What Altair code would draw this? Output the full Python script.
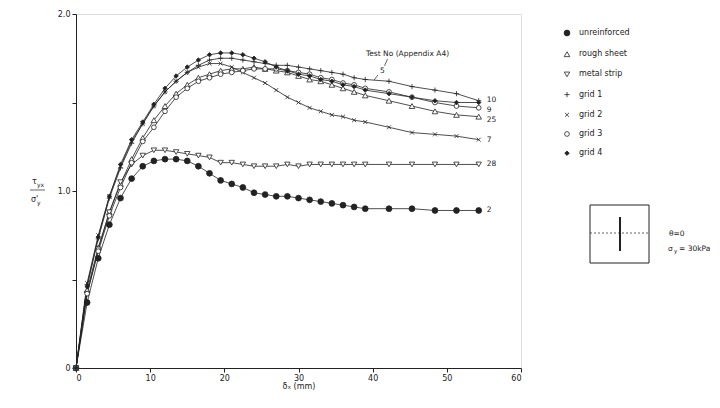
import altair as alt
import pandas as pd

# ---- data ----
dx = [0, 1.5, 3, 4.5, 6, 7.5, 9, 10.5, 12, 13.5, 15, 16.5, 18, 19.5, 21, 22.5,
      24, 25.5, 27, 28.5, 30, 31.5, 33, 34.5, 36, 37.5, 39, 42.2, 45.3, 48.4, 51.3, 54.3]

series_names = ["unreinforced", "rough sheet", "metal strip", "grid 1", "grid 2", "grid 3", "grid 4"]

unreinforced = [0, 0.37, 0.62, 0.81, 0.96, 1.07, 1.14, 1.17, 1.18, 1.18, 1.17, 1.14, 1.10, 1.06, 1.04, 1.02,
                0.99, 0.98, 0.97, 0.97, 0.96, 0.95, 0.94, 0.93, 0.92, 0.91, 0.90, 0.90, 0.90, 0.89, 0.89, 0.89]
rough_sheet = [0, 0.44, 0.68, 0.88, 1.04, 1.18, 1.30, 1.40, 1.48, 1.55, 1.60, 1.64, 1.66, 1.68, 1.69, 1.69,
               1.70, 1.69, 1.68, 1.67, 1.65, 1.63, 1.62, 1.60, 1.58, 1.56, 1.54, 1.51, 1.48, 1.45, 1.43, 1.42]
metal_strip = [0, 0.42, 0.67, 0.88, 1.05, 1.15, 1.20, 1.23, 1.23, 1.22, 1.21, 1.20, 1.19, 1.16, 1.16, 1.15,
               1.14, 1.14, 1.14, 1.15, 1.14, 1.15, 1.15, 1.15, 1.15, 1.15, 1.15, 1.15, 1.15, 1.15, 1.15, 1.15]
grid_1 = [0, 0.47, 0.73, 0.96, 1.13, 1.27, 1.38, 1.48, 1.56, 1.62, 1.67, 1.71, 1.74, 1.75, 1.75, 1.74,
          1.73, 1.72, 1.71, 1.71, 1.70, 1.69, 1.68, 1.67, 1.66, 1.64, 1.63, 1.62, 1.59, 1.57, 1.55, 1.51]
grid_2 = [0, 0.48, 0.75, 0.97, 1.14, 1.28, 1.38, 1.48, 1.56, 1.62, 1.67, 1.70, 1.72, 1.72, 1.70, 1.67,
          1.64, 1.61, 1.57, 1.53, 1.50, 1.47, 1.45, 1.43, 1.42, 1.40, 1.39, 1.36, 1.33, 1.32, 1.31, 1.29]
grid_3 = [0, 0.42, 0.66, 0.86, 1.02, 1.16, 1.28, 1.36, 1.45, 1.53, 1.58, 1.62, 1.64, 1.66, 1.67, 1.68,
          1.69, 1.69, 1.69, 1.68, 1.67, 1.66, 1.64, 1.63, 1.61, 1.60, 1.58, 1.56, 1.53, 1.50, 1.48, 1.47]
grid_4 = [0, 0.46, 0.74, 0.97, 1.15, 1.29, 1.39, 1.49, 1.58, 1.65, 1.70, 1.74, 1.77, 1.78, 1.78, 1.77,
          1.75, 1.73, 1.70, 1.68, 1.66, 1.65, 1.63, 1.62, 1.60, 1.59, 1.57, 1.55, 1.53, 1.51, 1.50, 1.50]

series_values = [unreinforced, rough_sheet, metal_strip, grid_1, grid_2, grid_3, grid_4]

end_labels = ["10", "9", "25", "7", "28", "2"]
end_label_y = [1.515, 1.46, 1.40, 1.29, 1.15, 0.89]
end_label_x = 54.3

y_ticks = [0, 0.5, 1.0, 1.5, 2.0]
x_ticks = [0, 10, 20, 30, 40, 50, 60]

FONT = "DejaVu Sans"
INK = "#222222"

rows = []
for name, ys in zip(series_names, series_values):
    for x, y in zip(dx, ys):
        rows.append({"series": name, "dx": x, "tau": y})
df = pd.DataFrame(rows)

shapes = ["circle", "triangle-up", "triangle-down",
          "M-1,0L1,0M0,-1L0,1",
          "M-0.8,-0.8L0.8,0.8M-0.8,0.8L0.8,-0.8",
          "circle", "diamond"]
fills = [INK, "white", "white", INK, INK, "white", INK]
strokes = [INK] * 7
sizes = [34, 20, 20, 28, 24, 18, 16]

xscale = alt.Scale(domain=[0, 60], nice=False)
yscale = alt.Scale(domain=[0, 2], nice=False)

base = alt.Chart(df)

lines = base.mark_line(color=INK, strokeWidth=0.8).encode(
    x=alt.X("dx:Q", scale=xscale,
            axis=alt.Axis(values=x_ticks, title="δₓ (mm)", titleFontWeight="normal",
                          titleFontSize=8, titlePadding=0, labelFontSize=8, tickSize=4,
                          labelPadding=2, grid=False, domainColor=INK, tickColor=INK,
                          labelColor=INK, titleColor=INK, labelFont=FONT, titleFont=FONT)),
    y=alt.Y("tau:Q", scale=yscale,
            axis=alt.Axis(values=y_ticks, title=None, grid=False, labelFontSize=8,
                          labelExpr="datum.value == 0 ? '0' : (datum.value % 1 == 0 ? format(datum.value, '.1f') : '')",
                          tickSize=4, domainColor=INK, tickColor=INK, labelColor=INK,
                          labelFont=FONT, labelPadding=2)),
    detail="series:N",
)

legend = alt.Legend(title=None, orient="none", legendX=487, legendY=15,
                    labelFont=FONT, labelFontSize=8, labelColor=INK,
                    rowPadding=11.2, symbolStrokeWidth=0.8, labelOffset=8)

points = base.mark_point(strokeWidth=0.8, opacity=1, fillOpacity=1).encode(
    x=alt.X("dx:Q", scale=xscale),
    y=alt.Y("tau:Q", scale=yscale),
    shape=alt.Shape("series:N", scale=alt.Scale(domain=series_names, range=shapes), legend=legend),
    fill=alt.Fill("series:N", scale=alt.Scale(domain=series_names, range=fills), legend=legend),
    stroke=alt.Stroke("series:N", scale=alt.Scale(domain=series_names, range=strokes), legend=legend),
    size=alt.Size("series:N", scale=alt.Scale(domain=series_names, range=sizes), legend=legend),
)

lab_df = pd.DataFrame({"text": end_labels, "y": end_label_y, "x": [end_label_x] * len(end_labels)})
end_text = alt.Chart(lab_df).mark_text(align="left", dx=8, font=FONT, fontSize=7.5, color=INK).encode(
    x=alt.X("x:Q", scale=xscale), y=alt.Y("y:Q", scale=yscale), text="text:N")

ann_df = pd.DataFrame({"text": ["Test No (Appendix A4)", "5"], "x": [44.7, 41.3], "y": [1.775, 1.68]})
ann_text = alt.Chart(ann_df).mark_text(font=FONT, fontSize=7.5, color=INK).encode(
    x=alt.X("x:Q", scale=xscale), y=alt.Y("y:Q", scale=yscale), text="text:N")

lead_df = pd.DataFrame({"x": [42.0, 40.7], "y": [1.746, 1.655], "x2": [41.6, 40.2], "y2": [1.707, 1.627]})
leaders = alt.Chart(lead_df).mark_rule(color=INK, strokeWidth=0.7).encode(
    x=alt.X("x:Q", scale=xscale), y=alt.Y("y:Q", scale=yscale), x2="x2:Q", y2="y2:Q")

# y-axis title as a stacked fraction
ytitle_df = pd.DataFrame({"t": ["τ", "yx", "σ'", "y"],
                          "px": [-44, -39, -45, -39], "py": [168, 171, 186, 189],
                          "fs": [8, 6, 8, 6]})
ytitle = alt.Chart(ytitle_df).mark_text(font=FONT, color=INK, align="left").encode(
    x=alt.X("px:Q", scale=None), y=alt.Y("py:Q", scale=None), text="t:N",
    size=alt.Size("fs:Q", scale=None, legend=None))
frac = alt.Chart(pd.DataFrame({"a": [0]})).mark_rule(color=INK, strokeWidth=0.7).encode(
    x=alt.value(-46), x2=alt.value(-31), y=alt.value(176))

# orientation box
box = alt.Chart(pd.DataFrame({"a": [0]})).mark_rect(fill="white", stroke=INK, strokeWidth=1).encode(
    x=alt.value(514), x2=alt.value(573), y=alt.value(191), y2=alt.value(249))
dash = alt.Chart(pd.DataFrame({"a": [0]})).mark_rule(color=INK, strokeWidth=0.7, strokeDash=[2, 2]).encode(
    x=alt.value(514), x2=alt.value(573), y=alt.value(219))
bar = alt.Chart(pd.DataFrame({"a": [0]})).mark_rule(color=INK, strokeWidth=2).encode(
    x=alt.value(544), y=alt.value(203), y2=alt.value(237))
box_df = pd.DataFrame({"t": ["θ=0", "σ", "y", "= 30kPa"],
                       "px": [593, 592, 598, 603], "py": [220, 235, 237, 235],
                       "fs": [7.5, 7.5, 5.5, 7.5]})
box_text = alt.Chart(box_df).mark_text(font=FONT, color=INK, align="left").encode(
    x=alt.X("px:Q", scale=None), y=alt.Y("py:Q", scale=None), text="t:N",
    size=alt.Size("fs:Q", scale=None, legend=None))

chart = alt.layer(lines, points, end_text, ann_text, leaders, ytitle, frac, box, dash, bar, box_text).properties(
    width=445, height=354,
    autosize=alt.AutoSizeParams(type="none"),
    padding={"left": 68, "top": 6, "right": 191, "bottom": 32},
).configure_view(stroke=None).configure(background="white")

chart.save("out.html", embed_options={"renderer": "svg", "actions": False})
